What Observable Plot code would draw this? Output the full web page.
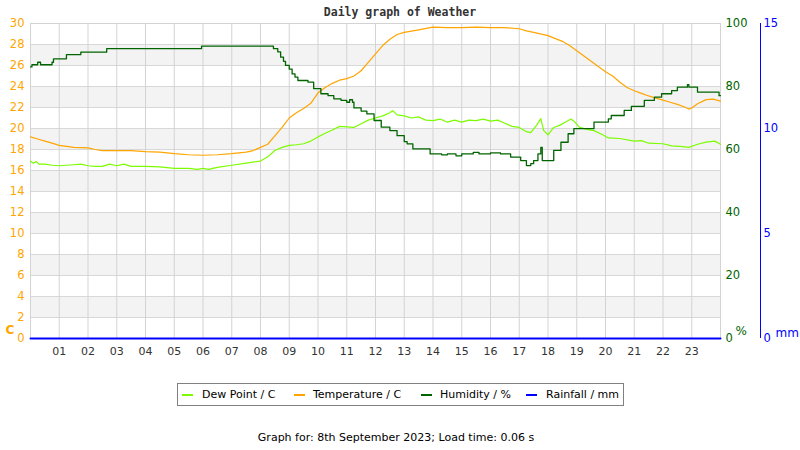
<!DOCTYPE html>
<html>
<head>
<meta charset="utf-8">
<script src="https://cdn.jsdelivr.net/npm/d3@7"></script>
<script src="https://cdn.jsdelivr.net/npm/@observablehq/plot@0.6"></script>
<style>
  html, body { margin: 0; padding: 0; background: #fff; }
  #wrap { position: relative; width: 800px; height: 450px; font-family: "DejaVu Sans", sans-serif; }
  #title { position: absolute; top: 5px; left: 0; width: 800px; text-align: center; font: bold 11.5px "DejaVu Sans Mono", monospace; color: #333; }
  #legend { position: absolute; left: 177px; top: 383px; width: 447px; height: 23px; border: 1px solid #808080; box-sizing: border-box; font-size: 11px; color: #000; }
  #legend .dash { position: absolute; top: 10px; width: 11px; height: 2px; }
  #legend .lbl { position: absolute; top: 4px; white-space: nowrap; }
  #caption { position: absolute; top: 431px; left: 0; width: 792px; text-align: center; font-size: 11px; color: #000; }
</style>
</head>
<body>
<div id="wrap">
  <div id="title">Daily graph of Weather</div>
  <div id="legend"></div>
  <div id="caption">Graph for: 8th September 2023; Load time: 0.06 s</div>
</div>
<script>
// ---- data (hour of day, value) ----
const hourTicks = [1,2,3,4,5,6,7,8,9,10,11,12,13,14,15,16,17,18,19,20,21,22,23];
const tempTicks = [0,2,4,6,8,10,12,14,16,18,20,22,24,26,28,30];
const humidityTicks = [0,20,40,60,80,100];
const rainTicks = [0,5,10,15];

const temperature = [
  [0,19.2],[0.25,19.0],[0.5,18.8],[0.75,18.6],[1.0,18.4],[1.25,18.3],[1.5,18.2],[2.0,18.15],[2.25,18.0],[2.5,17.9],
  [3.0,17.9],[3.5,17.9],[4.0,17.8],[4.5,17.75],[5.0,17.6],[5.5,17.5],[6.0,17.45],[6.5,17.5],[7.0,17.6],[7.5,17.75],
  [7.75,17.9],[8.0,18.2],[8.25,18.5],[8.5,19.3],[8.75,20.1],[9.0,21.0],[9.25,21.5],[9.5,21.9],[9.75,22.4],[10.0,23.4],
  [10.25,23.9],[10.5,24.3],[10.75,24.6],[11.0,24.75],[11.25,25.0],[11.5,25.5],[11.75,26.3],[12.0,27.1],[12.25,27.9],
  [12.5,28.5],[12.75,28.95],[13.0,29.15],[13.5,29.4],[14.0,29.65],[14.5,29.6],[15.0,29.6],[15.5,29.65],[16.0,29.6],
  [16.5,29.6],[17.0,29.5],[17.25,29.3],[17.5,29.15],[18.0,28.85],[18.5,28.3],[18.75,27.9],[19.0,27.4],[19.25,26.9],
  [19.5,26.4],[19.75,25.9],[20.0,25.4],[20.25,25.0],[20.5,24.4],[20.75,23.9],[21.0,23.6],[21.25,23.35],[21.5,23.1],
  [21.75,22.9],[22.0,22.7],[22.25,22.5],[22.5,22.3],[22.75,22.05],[22.9,21.85],[23.0,21.95],[23.2,22.35],[23.5,22.75],
  [23.75,22.8],[24.0,22.6]
];

const dewPoint = [
  [0,16.9],[0.1,16.7],[0.2,16.85],[0.3,16.6],[0.5,16.6],[0.75,16.5],[1.0,16.45],[1.5,16.55],[1.75,16.6],[2.0,16.45],
  [2.25,16.4],[2.5,16.4],[2.75,16.6],[3.0,16.45],[3.25,16.6],[3.5,16.4],[4.0,16.4],[4.5,16.35],[5.0,16.2],[5.5,16.2],
  [5.8,16.1],[6.0,16.2],[6.2,16.1],[6.5,16.3],[7.0,16.5],[7.5,16.7],[8.0,16.9],[8.25,17.3],[8.5,17.9],[8.75,18.2],
  [9.0,18.4],[9.25,18.45],[9.5,18.55],[9.75,18.8],[10.0,19.2],[10.25,19.55],[10.5,19.85],[10.75,20.2],[11.0,20.15],
  [11.25,20.1],[11.5,20.45],[11.75,20.8],[12.0,21.0],[12.25,21.2],[12.5,21.5],[12.6,21.7],[12.75,21.3],[13.0,21.2],
  [13.25,21.0],[13.5,21.1],[13.75,20.8],[14.0,20.75],[14.25,20.9],[14.5,20.6],[14.75,20.8],[15.0,20.6],[15.25,20.8],
  [15.5,20.75],[15.75,20.9],[16.0,20.7],[16.25,20.8],[16.5,20.5],[16.75,20.2],[17.0,20.1],[17.25,19.7],[17.4,19.6],
  [17.6,20.3],[17.75,20.95],[17.85,19.8],[18.0,19.4],[18.2,20.1],[18.4,20.3],[18.6,20.6],[18.8,20.9],[18.9,20.7],
  [19.1,20.1],[19.4,19.9],[19.6,19.8],[19.9,19.4],[20.1,19.1],[20.5,19.05],[21.0,18.8],[21.25,18.85],[21.5,18.6],
  [22.0,18.55],[22.3,18.35],[22.6,18.3],[22.9,18.2],[23.2,18.5],[23.5,18.7],[23.8,18.8],[24.0,18.5]
];

const humidity = [
  [0,86.2],[0.05,86.9],[0.25,87.7],[0.35,86.9],[0.75,87.7],[0.8,88.8],[1.25,90.1],[1.75,90.9],[2.65,92.0],[5.95,92.8],
  [8.3,92.8],[8.45,92.0],[8.6,91.0],[8.7,89.3],[8.8,88.0],[8.87,86.7],[9.0,85.5],[9.1,84.0],[9.2,83.0],[9.3,81.9],
  [9.65,81.4],[9.85,79.3],[10.1,77.7],[10.35,77.1],[10.55,76.1],[10.8,75.6],[11.0,75.0],[11.1,75.8],[11.2,75.0],
  [11.25,73.2],[11.5,72.2],[11.7,71.3],[11.95,69.2],[12.2,67.1],[12.5,66.0],[12.75,64.4],[13.0,62.5],[13.1,61.8],
  [13.3,60.2],[13.7,60.2],[13.9,58.6],[14.3,58.3],[14.5,58.6],[14.8,58.0],[15.0,58.6],[15.4,59.1],[15.6,58.6],
  [16.0,58.9],[16.35,58.6],[16.7,57.6],[17.05,56.5],[17.25,54.9],[17.4,55.5],[17.5,56.5],[17.65,58.6],[17.75,60.7],
  [17.8,56.5],[18.1,56.5],[18.2,59.7],[18.45,62.3],[18.7,65.0],[18.9,66.6],[19.4,66.6],[19.6,68.7],[20.1,69.7],
  [20.2,70.8],[20.65,72.4],[20.9,73.7],[21.35,75.6],[21.7,76.6],[21.95,77.7],[22.3,78.7],[22.5,79.8],[22.85,80.6],
  [22.9,79.8],[23.1,79.8],[23.2,78.2],[23.8,78.2],[23.95,77.1],[24.0,77.1]
];

const rainfall = [[0,0],[3,0],[6,0],[9,0],[12,0],[15,0],[18,0],[21,0],[24,0]];

const legendItems = [
  {label: "Dew Point / C", color: "#7CFC00"},
  {label: "Temperature / C", color: "#FFA500"},
  {label: "Humidity / %", color: "#006400"},
  {label: "Rainfall / mm", color: "#0000FF"}
];

// ---- layout ----
const W = 800, H = 360;
const margins = {marginLeft: 30, marginRight: 80, marginTop: 23, marginBottom: 22};
const baseStyle = {background: "transparent", fontFamily: "DejaVu Sans", fontSize: "11px", overflow: "visible"};

// bands: alternate between tick pairs
const bands = [];
for (let i = 1; i + 1 < tempTicks.length; i += 2) bands.push([tempTicks[i], tempTicks[i + 1]]);

const tempPlot = Plot.plot({
  width: W, height: H, ...margins, style: baseStyle,
  x: {domain: [0, 24]}, y: {domain: [0, 30]},
  marks: [
    Plot.rect(bands, {y1: d => d[0], y2: d => d[1], fill: "#f3f3f3"}),
    Plot.ruleY(tempTicks, {stroke: "#d8d8d8"}),
    Plot.ruleX(hourTicks, {stroke: "#d3d3d3"}),
    Plot.frame({stroke: "#d3d3d3"}),
    Plot.axisX(hourTicks, {tickSize: 0, tickPadding: 9, tickFormat: d => String(d).padStart(2, "0"), fill: "#333", fontSize: 11, label: null}),
    Plot.axisY(tempTicks, {anchor: "left", tickSize: 0, tickPadding: 6, fill: "#FFA500", fontSize: 11.5, label: null}),
    Plot.text(["C"], {frameAnchor: "bottom-left", dx: -25, dy: -5, textAnchor: "start", fill: "#FFA500", fontWeight: "bold", fontSize: 12}),
    Plot.line(dewPoint, {x: d => d[0], y: d => d[1], stroke: "#7CFC00", strokeWidth: 1.2}),
    Plot.line(temperature, {x: d => d[0], y: d => d[1], stroke: "#FFA500", strokeWidth: 1.2})
  ]
});

const humPlot = Plot.plot({
  width: W, height: H, ...margins, style: baseStyle,
  x: {domain: [0, 24], axis: null}, y: {domain: [0, 100], axis: null},
  marks: [
    Plot.line(humidity, {x: d => d[0], y: d => d[1], stroke: "#006400", strokeWidth: 1.3, curve: "step-after"}),
    Plot.axisY(humidityTicks, {anchor: "right", tickSize: 0, tickPadding: 5, fill: "#006400", fontSize: 11.5, label: null}),
    Plot.text(["%"], {frameAnchor: "bottom-right", dx: 15, dy: -4, textAnchor: "start", fill: "#006400", fontSize: 12})
  ]
});

const rainPlot = Plot.plot({
  width: W, height: H, ...margins, style: baseStyle,
  x: {domain: [0, 24], axis: null}, y: {domain: [0, 15], axis: null},
  marks: [
    Plot.line(rainfall, {x: d => d[0], y: d => d[1], stroke: "#0000FF", strokeWidth: 2}),
    Plot.ruleX([24], {stroke: "#0000FF", dx: 40, strokeWidth: 1}),
    Plot.axisY(rainTicks, {anchor: "right", tickSize: 0, tickPadding: 3, dx: 40, fill: "#0000FF", fontSize: 11.5, label: null}),
    Plot.text(["mm"], {frameAnchor: "bottom-right", dx: 55, dy: -2, textAnchor: "start", fill: "#0000FF", fontSize: 12})
  ]
});

const wrap = document.getElementById("wrap");
[tempPlot, humPlot, rainPlot].forEach(p => { p.style.position = "absolute"; p.style.left = "0"; p.style.top = "0"; wrap.appendChild(p); });

// legend
const legend = document.getElementById("legend");
const dashX = [4, 116, 243, 348];
const lblX = [24, 135, 262, 368];
legendItems.forEach((it, i) => {
  const d = document.createElement("div");
  d.className = "dash"; d.style.left = dashX[i] + "px"; d.style.background = it.color;
  const t = document.createElement("div");
  t.className = "lbl"; t.style.left = lblX[i] + "px"; t.textContent = it.label;
  legend.appendChild(d); legend.appendChild(t);
});
</script>
</body>
</html>
